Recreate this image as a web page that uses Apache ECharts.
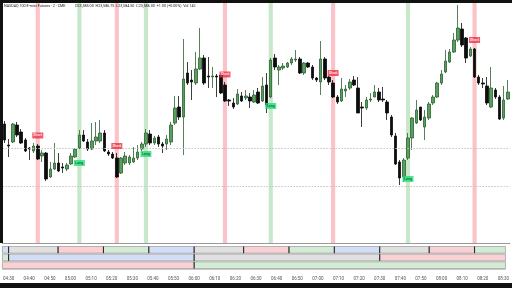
<!DOCTYPE html>
<html><head><meta charset="utf-8">
<script src="https://cdn.jsdelivr.net/npm/echarts@6/dist/echarts.min.js"></script>
<style>html,body{margin:0;padding:0;background:#fff}#c{width:512px;height:288px}</style>
</head><body><div id="c"></div>
<script>
const categories = ['04:28','04:30','04:32','04:34','04:36','04:38','04:40','04:42','04:44','04:46','04:48','04:50','04:52','04:54','04:56','04:58',
'05:00','05:02','05:04','05:06','05:08','05:10','05:12','05:14','05:16','05:18','05:20','05:22','05:24','05:26','05:28','05:30','05:32','05:34','05:36','05:38','05:40','05:42','05:44','05:46','05:48','05:50','05:52','05:54','05:56','05:58',
'06:00','06:02','06:04','06:06','06:08','06:10','06:12','06:14','06:16','06:18','06:20','06:22','06:24','06:26','06:28','06:30','06:32','06:34','06:36','06:38','06:40','06:42','06:44','06:46','06:48','06:50','06:52','06:54','06:56','06:58',
'07:00','07:02','07:04','07:06','07:08','07:10','07:12','07:14','07:16','07:18','07:20','07:22','07:24','07:26','07:28','07:30','07:32','07:34','07:36','07:38','07:40','07:42','07:44','07:46','07:48','07:50','07:52','07:54','07:56','07:58',
'08:00','08:02','08:04','08:06','08:08','08:10','08:12','08:14','08:16','08:18','08:20','08:22','08:24','08:26','08:28','08:30'];

const opens = [23560,23539,23542,23559,23552,23544,23536,23533,23538,23528,23531,23507,23515,23521,23517,23515,23520,23527,23536,23549,
23542,23535,23543,23543,23551,23532,23530,23526,23511,23521,23521,23522,23526,23535,23540,23550,23541,23547,23540,23540,
23542,23561,23577,23567,23611,23604,23601,23615,23626,23608,23607,23608,23609,23599,23584,23581,23580,23588,23586,23587,
23582,23592,23583,23599,23587,23626,23614,23616,23617,23621,23624,23625,23611,23621,23617,23606,23602,23625,23607,23601,
23587,23583,23593,23596,23604,23596,23577,23576,23584,23587,23592,23585,23582,23567,23548,23522,23507,23526,23546,23561,
23577,23557,23566,23581,23587,23601,23612,23622,23632,23644,23655,23646,23628,23635,23607,23601,23598,23577,23594,23587,
23566,23585];
const closes = [23544,23538,23560,23549,23541,23533,23535,23538,23525,23531,23505,23515,23521,23513,23516,23519,23528,23535,23549,23543,
23535,23543,23547,23551,23533,23530,23526,23507,23526,23528,23527,23526,23532,23540,23551,23541,23546,23540,23538,23545,
23559,23576,23567,23605,23601,23602,23615,23626,23601,23607,23608,23607,23591,23583,23583,23577,23590,23583,23588,23583,
23589,23581,23598,23579,23624,23617,23617,23618,23621,23625,23625,23611,23621,23617,23606,23604,23625,23606,23602,23587,
23582,23595,23595,23602,23599,23571,23576,23584,23585,23592,23584,23584,23571,23549,23520,23506,23524,23546,23566,23574,
23564,23567,23580,23587,23601,23610,23623,23632,23644,23656,23639,23626,23635,23607,23601,23600,23581,23596,23587,23565,
23584,23592];
const lows = [23541,23527,23541,23547,23540,23532,23524,23531,23524,23522,23503,23506,23514,23512,23511,23513,23519,23526,23535,23542,
23533,23534,23539,23541,23532,23528,23525,23506,23510,23519,23519,23521,23524,23533,23537,23539,23539,23537,23531,23534,
23539,23559,23564,23529,23599,23584,23599,23614,23599,23596,23596,23587,23590,23582,23578,23575,23579,23582,23584,23576,
23581,23580,23582,23571,23586,23614,23599,23614,23616,23619,23622,23610,23609,23616,23604,23602,23589,23604,23599,23586,
23580,23582,23587,23594,23598,23571,23557,23574,23582,23587,23582,23582,23564,23547,23519,23499,23502,23524,23534,23560,
23563,23544,23564,23579,23586,23599,23611,23621,23631,23642,23637,23621,23627,23606,23599,23596,23579,23576,23585,23564,
23564,23584];
const highs = [23563,23545,23561,23562,23555,23546,23537,23541,23540,23534,23532,23522,23541,23531,23521,23521,23531,23536,23554,23554,
23545,23561,23562,23564,23554,23534,23532,23531,23527,23532,23529,23537,23539,23542,23555,23554,23548,23549,23542,23549,
23562,23588,23588,23645,23622,23614,23632,23656,23629,23627,23617,23610,23611,23602,23585,23586,23595,23592,23594,23591,
23594,23596,23607,23611,23626,23630,23619,23621,23622,23627,23634,23627,23622,23622,23619,23607,23643,23627,23608,23604,
23589,23606,23599,23605,23608,23607,23582,23587,23591,23599,23596,23597,23584,23569,23551,23524,23526,23551,23567,23584,
23577,23574,23582,23589,23602,23614,23634,23635,23651,23679,23661,23647,23637,23636,23609,23606,23607,23617,23596,23589,
23598,23604];

const shortSignals = ['04:44','05:22','06:14','07:06','08:14'];
const shortLabelPrices = [23548.5,23538,23609.5,23611,23644];
const longSignals = ['05:04','05:36','06:36','07:42'];
const longLabelPrices = [23521,23530,23578,23505];
const levelLines = [23536,23498];

// session rows: [start, end, colour key]
const sessionRow1 = [['04:28','04:30','blue'],['04:30','04:54','gray'],['04:54','05:16','pink'],['05:16','05:38','green'],['05:38','06:00','blue'],
['06:00','06:24','gray'],['06:24','06:46','pink'],['06:46','07:08','green'],['07:08','07:30','blue'],['07:30','07:54','gray'],['07:54','08:16','pink'],['08:16','08:30','green']];
const sessionRow2 = [['04:28','04:30','green'],['04:30','06:00','blue'],['06:00','07:30','gray'],['07:30','08:30','pink']];
const sessionRow3 = [['04:28','06:00','pink'],['06:00','08:30','green']];

const headerTitle = 'NASDAQ 100 E-mini Futures · 2 · CME';
const headerValues = 'O23,585.00  H23,586.75  L23,584.50  C23,586.00  +1.00 (+0.00%)  Vol 142';

const fills = {gray:'#e0e0e0', pink:'#f9d0d4', green:'#d3ebd4', blue:'#d2ddf6'};
const colorKeys = ['gray','pink','green','blue'];

const candleData = categories.map((c,i)=>[opens[i],closes[i],lows[i],highs[i]]);
const bandData = categories.map(c => shortSignals.includes(c) ? {value:1,itemStyle:{color:'rgba(242,54,69,0.3)'}}
  : longSignals.includes(c) ? {value:1,itemStyle:{color:'rgba(76,175,80,0.3)'}} : '-');
const sessData = [];
[[sessionRow1,2],[sessionRow2,1],[sessionRow3,0]].forEach(([rows,r])=>{
  rows.forEach(s=>sessData.push([categories.indexOf(s[0]),categories.indexOf(s[1]),r,colorKeys.indexOf(s[2])]));
});

const chart = echarts.init(document.getElementById('c'));
const font = 'Roboto, "DejaVu Sans", sans-serif';
chart.setOption({
  animation:false,
  backgroundColor:'#fff',
  grid:[{left:2.42,top:3,width:507.5,height:240},{left:2.42,top:246,width:507.5,height:23}],
  xAxis:[
    {type:'category',data:categories,gridIndex:0,boundaryGap:true,axisLabel:{show:false},axisTick:{show:false},
     axisLine:{show:true,lineStyle:{color:'#9a9a9a',width:1}},splitLine:{show:false}},
    {type:'category',data:categories,gridIndex:1,boundaryGap:true,axisTick:{show:false},
     axisLine:{show:true,lineStyle:{color:'#c8c8c8'}},
     axisLabel:{interval:(i,v)=>v.slice(-1)==='0',fontSize:4.5,color:'#555',margin:7,fontFamily:font}}
  ],
  yAxis:[
    {type:'value',gridIndex:0,min:23441,max:23681,show:false,splitLine:{show:false}},
    {type:'value',gridIndex:0,min:0,max:1,show:false},
    {type:'value',gridIndex:1,min:0,max:3,show:false}
  ],
  series:[
    {type:'bar',xAxisIndex:0,yAxisIndex:1,data:bandData,barWidth:'100%',barCategoryGap:0,z:1,silent:true},
    {type:'candlestick',xAxisIndex:0,yAxisIndex:0,data:candleData,barWidth:3,z:3,
     itemStyle:{color:'#55a05a',borderColor:'#2f5f33',color0:'#0d0d0d',borderColor0:'#0d0d0d',borderWidth:0.8},
     markLine:{silent:true,symbol:'none',label:{show:false},lineStyle:{color:'#c4c4c4',type:[1.5,1.5],width:1},
       data:levelLines.map(v=>({yAxis:v}))}},
    {type:'scatter',xAxisIndex:0,yAxisIndex:0,z:5,symbol:'rect',symbolSize:[11,6],
     itemStyle:{color:'#ef2f45'},data:shortSignals.map((c,i)=>[c,shortLabelPrices[i]]),
     label:{show:true,position:'inside',formatter:'Short',fontSize:3.6,color:'#fff',fontFamily:font,fontWeight:'bold'}},
    {type:'scatter',xAxisIndex:0,yAxisIndex:0,z:5,symbol:'rect',symbolSize:[11,6],
     itemStyle:{color:'#22df78'},data:longSignals.map((c,i)=>[c,longLabelPrices[i]]),
     label:{show:true,position:'inside',formatter:'Long',fontSize:3.6,color:'#0b5a2a',fontFamily:font,fontWeight:'bold'}},
    {type:'custom',xAxisIndex:1,yAxisIndex:2,data:sessData,z:2,
     renderItem:(params,api)=>{
       const s=api.value(0),e=api.value(1),r=api.value(2),k=api.value(3);
       const p0=api.coord([s,r+1]),p1=api.coord([e,r]);
       const cs=params.coordSys;
       let x0=p0[0],x1=p1[0];
       if(s===0) x0=cs.x;
       if(e===categories.length-1) x1=cs.x+cs.width;
       const children=[{type:'rect',shape:{x:x0,y:p0[1]+0.5,width:x1-x0,height:p1[1]-p0[1]-1},
         style:{fill:fills[colorKeys[k]],stroke:'#8a8a8a',lineWidth:0.6}}];
       if(s!==0) children.push({type:'line',shape:{x1:x0,y1:p0[1]+0.5,x2:x0,y2:p1[1]-0.5},style:{stroke:'#222',lineWidth:1}});
       return {type:'group',children};
     }}
  ],
  graphic:[
    {type:'rect',shape:{x:0,y:0,width:512,height:3},style:{fill:'#111'},z:100},
    {type:'rect',shape:{x:0,y:0,width:3,height:243},style:{fill:'#111'},z:100},
    {type:'rect',shape:{x:0,y:283,width:512,height:5},style:{fill:'#111'},z:100},
    {type:'text',x:4,y:4.5,style:{text:headerTitle,fontSize:3.7,fill:'#222',fontFamily:font},z:100},
    {type:'text',x:75,y:4.5,style:{text:headerValues,fontSize:3.7,fill:'#222',fontFamily:font},z:100}
  ]
});
</script></body></html>
